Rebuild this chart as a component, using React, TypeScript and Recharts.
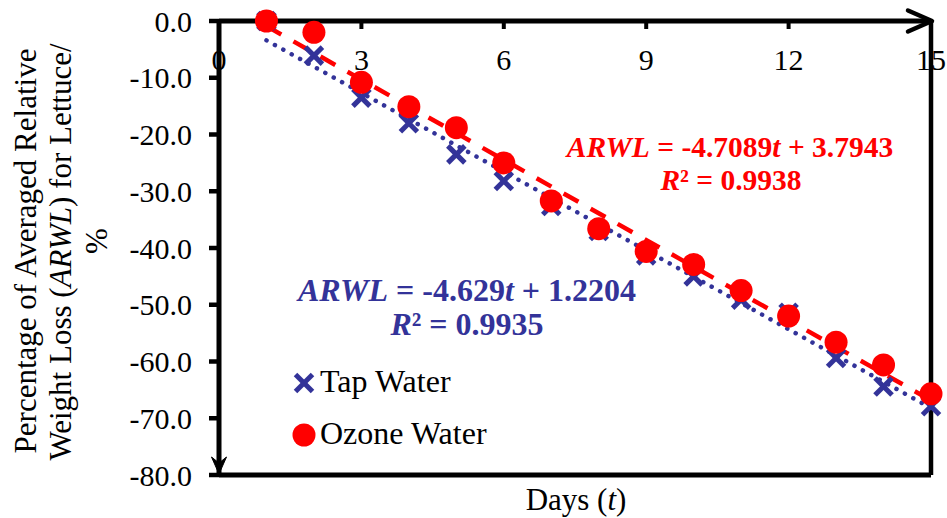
import React from 'react';
import {
  ComposedChart,
  XAxis,
  YAxis,
  Scatter,
  Line,
  ReferenceLine,
  ReferenceDot,
  Customized,
} from 'recharts';

// ---- data ----
const days = [1, 2, 3, 4, 5, 6, 7, 8, 9, 10, 11, 12, 13, 14, 15];
const tapWater = [0, -6.1, -13.5, -18.0, -23.5, -28.2, -32.6, -37.0, -41.3, -45.0, -49.1, -51.4, -59.4, -64.4, -67.9];
const ozoneWater = [0, -2.0, -10.8, -15.1, -18.8, -25.0, -31.7, -36.6, -40.6, -42.9, -47.5, -52.0, -56.6, -60.6, -65.7];
const trendDays = [1, 15];
const tapTrend = [-3.41, -68.21];
const ozoneTrend = [-0.91, -66.84];
const xTicks = [0, 3, 6, 9, 12, 15];
const yTicks = [0, -10, -20, -30, -40, -50, -60, -70, -80];
const seriesNames = ['Tap Water', 'Ozone Water'];
const yTitleLines = ['Percentage of Averaged Relative', 'Weight Loss (', 'ARWL', ') for Lettuce/', '%'];

const tapData = days.map((t, i) => ({ t, v: tapWater[i] }));
const ozoneData = days.map((t, i) => ({ t, v: ozoneWater[i] }));
const tapTrendData = trendDays.map((t, i) => ({ t, v: tapTrend[i] }));
const ozoneTrendData = trendDays.map((t, i) => ({ t, v: ozoneTrend[i] }));

const FONT = '"Liberation Serif", "Times New Roman", Times, serif';
const BLUE = '#333399';
const RED = '#FF0000';

const XMark = (props: any) => {
  const { cx, cy } = props;
  const h = 8.5;
  return (
    <g>
      <line x1={cx - h} y1={cy - h} x2={cx + h} y2={cy + h} stroke={BLUE} strokeWidth={5} />
      <line x1={cx - h} y1={cy + h} x2={cx + h} y2={cy - h} stroke={BLUE} strokeWidth={5} />
    </g>
  );
};

const Dot = (props: any) => {
  const { cx, cy } = props;
  return <circle cx={cx} cy={cy} r={11.5} fill={RED} />;
};

const RightArrow = (props: any) => {
  const { cx, cy } = props;
  return (
    <polyline
      points={`${cx - 23},${cy - 10.5} ${cx + 1},${cy} ${cx - 23},${cy + 10.5}`}
      fill="none"
      stroke="#000"
      strokeWidth={4.5}
      strokeLinecap="round"
      strokeLinejoin="round"
    />
  );
};

const DownArrow = (props: any) => {
  const { cx, cy } = props;
  return (
    <polygon
      points={`${cx},${cy - 1} ${cx - 7.5},${cy - 18} ${cx},${cy - 12} ${cx + 7.5},${cy - 18}`}
      fill="#000"
      stroke="#000"
      strokeWidth={1}
    />
  );
};

const T = (p: any) => <text fontFamily={FONT} {...p} />;

const Annotations = () => (
  <g>
    {/* Y axis title */}
    <T transform="translate(35.5,251) rotate(-90)" textAnchor="middle" fontSize={31} fill="#000">
      {yTitleLines[0]}
    </T>
    <T transform="translate(71,252) rotate(-90)" textAnchor="middle" fontSize={31} fill="#000">
      {yTitleLines[1]}
      <tspan fontStyle="italic">{yTitleLines[2]}</tspan>
      {yTitleLines[3]}
    </T>
    <T transform="translate(106.5,241) rotate(-90)" textAnchor="middle" fontSize={31} fill="#000">
      {yTitleLines[4]}
    </T>
    {/* X axis title */}
    <T x={576} y={510} textAnchor="middle" fontSize={31} fill="#000">
      Days (<tspan fontStyle="italic">t</tspan>)
    </T>
    {/* red equation */}
    <T x={730} y={157} textAnchor="middle" fontSize={29.5} fontWeight="bold" fill={RED}>
      <tspan fontStyle="italic">ARWL</tspan> = -4.7089<tspan fontStyle="italic">t</tspan> + 3.7943
    </T>
    <T x={731} y={190} textAnchor="middle" fontSize={29.5} fontWeight="bold" fill={RED}>
      <tspan fontStyle="italic">R</tspan>² = 0.9938
    </T>
    {/* blue equation */}
    <T x={467} y={301} textAnchor="middle" fontSize={32} fontWeight="bold" fill={BLUE}>
      <tspan fontStyle="italic">ARWL</tspan> = -4.629<tspan fontStyle="italic">t</tspan> + 1.2204
    </T>
    <T x={467} y={335} textAnchor="middle" fontSize={32} fontWeight="bold" fill={BLUE}>
      <tspan fontStyle="italic">R</tspan>² = 0.9935
    </T>
    {/* legend */}
    <XMark cx={304} cy={383} />
    <T x={320} y={392} fontSize={32} fill="#000">{seriesNames[0]}</T>
    <circle cx={304} cy={435} r={11.5} fill={RED} />
    <T x={320} y={444} fontSize={32} fill="#000">{seriesNames[1]}</T>
  </g>
);

export default function App() {
  return (
    <div style={{ position: 'absolute', left: 0, top: 0, width: 947, height: 518, background: '#fff' }}>
      <ComposedChart width={947} height={518} margin={{ top: 21, right: 16, bottom: 43, left: 218 }}>
        <XAxis
          type="number"
          dataKey="t"
          domain={[0, 15]}
          ticks={xTicks}
          interval={0}
          orientation="top"
          mirror
          height={1}
          tickSize={8}
          tickMargin={20}
          axisLine={{ stroke: '#000', strokeWidth: 5 }}
          tickLine={{ stroke: '#000', strokeWidth: 4 }}
          tick={{ fill: '#000', fontSize: 30, fontFamily: FONT }}
        />
        <YAxis
          type="number"
          dataKey="v"
          domain={[-80, 0]}
          ticks={yTicks}
          interval={0}
          width={1}
          tickSize={10}
          tickMargin={17}
          tickFormatter={(v: number) => v.toFixed(1)}
          axisLine={{ stroke: '#000', strokeWidth: 5 }}
          tickLine={{ stroke: '#000', strokeWidth: 4.5 }}
          tick={{ fill: '#000', fontSize: 30, fontFamily: FONT }}
        />
        <ReferenceLine x={15} stroke="#000" strokeWidth={4.5} ifOverflow="visible" />
        <ReferenceLine y={-80} stroke="#000" strokeWidth={5} ifOverflow="visible" />
        <Scatter name={seriesNames[0]} data={tapData} dataKey="v" fill={BLUE} shape={XMark} isAnimationActive={false} />
        <Scatter name={seriesNames[1]} data={ozoneData} dataKey="v" fill={RED} shape={Dot} isAnimationActive={false} />
        <Line
          data={tapTrendData}
          dataKey="v"
          type="linear"
          stroke={BLUE}
          strokeWidth={4.5}
          strokeDasharray="0.1 9.5"
          strokeLinecap="round"
          dot={false}
          activeDot={false}
          legendType="none"
          isAnimationActive={false}
        />
        <Line
          data={ozoneTrendData}
          dataKey="v"
          type="linear"
          stroke={RED}
          strokeWidth={4.5}
          strokeDasharray="17 14"
          dot={false}
          activeDot={false}
          legendType="none"
          isAnimationActive={false}
        />
        <ReferenceDot x={15} y={0} ifOverflow="visible" shape={RightArrow} />
        <ReferenceDot x={0} y={-80} ifOverflow="visible" shape={DownArrow} />
        <Customized component={Annotations} />
      </ComposedChart>
    </div>
  );
}
